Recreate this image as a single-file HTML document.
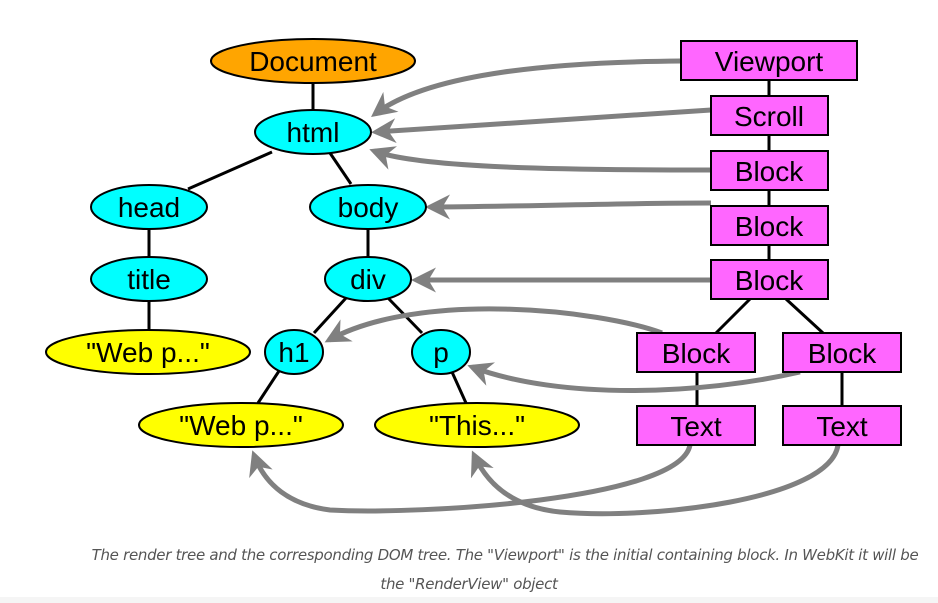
<!DOCTYPE html>
<html><head><style>
body{margin:0;width:938px;height:603px;background:#fff;overflow:hidden;font-family:"Liberation Sans",Arial,sans-serif}
.cap{position:absolute;left:0;width:938px;text-align:center;font-style:italic;font-size:15px;color:#555;font-family:"DejaVu Sans","Liberation Sans",sans-serif;letter-spacing:-0.3px}
</style></head><body>
<svg width="938" height="603" style="position:absolute;left:0;top:0">
<defs>
<marker id="a" viewBox="0 0 10 10" refX="8" refY="5" markerWidth="5" markerHeight="5" orient="auto" markerUnits="strokeWidth">
<path d="M0,0 L10,5 L0,10 L3,5 Z" fill="#808080"/>
</marker>
</defs>
<g stroke="#000" stroke-width="3">
<line x1="313" y1="83" x2="313" y2="110"/>
<line x1="272" y1="152" x2="188" y2="189"/>
<line x1="330" y1="153" x2="351" y2="184"/>
<line x1="149" y1="229" x2="149" y2="257"/>
<line x1="368" y1="229" x2="368" y2="257"/>
<line x1="149" y1="301" x2="149" y2="330"/>
<line x1="346" y1="298" x2="314" y2="333"/>
<line x1="388" y1="298" x2="422" y2="333"/>
<line x1="279" y1="371" x2="258" y2="403"/>
<line x1="452" y1="372" x2="466" y2="403"/>
<line x1="769" y1="80" x2="769" y2="96"/>
<line x1="769" y1="135" x2="769" y2="151"/>
<line x1="769" y1="190" x2="769" y2="206"/>
<line x1="769" y1="245" x2="769" y2="260"/>
<line x1="750" y1="299" x2="716" y2="333"/>
<line x1="786" y1="299" x2="823" y2="333"/>
<line x1="697" y1="372" x2="697" y2="406"/>
<line x1="842" y1="372" x2="842" y2="406"/>
</g>
<g fill="none" stroke="#808080" stroke-width="5" marker-end="url(#a)">
<path d="M681,61 C560,62 430,72 375,114"/>
<path d="M711,110 L376,132"/>
<path d="M711,170 C560,170 420,168 374,151"/>
<path d="M711,203 C620,203 500,207 430,207"/>
<path d="M711,280 L416,280"/>
<path d="M662,333 C600,310 420,290 329,340"/>
<path d="M800,372 C700,395 560,400 472,367"/>
<path d="M690,445 C680,500 420,515 330,510 C290,505 265,485 254,455"/>
<path d="M838,445 C830,500 650,520 560,512 C520,508 490,490 474,455"/>
</g>
<g stroke="#000" stroke-width="2">
<ellipse cx="313" cy="61" rx="102" ry="22" fill="#ffa500"/>
<ellipse cx="313" cy="132" rx="58" ry="22" fill="#00ffff"/>
<ellipse cx="149" cy="207" rx="58" ry="22" fill="#00ffff"/>
<ellipse cx="368" cy="207" rx="58" ry="22" fill="#00ffff"/>
<ellipse cx="149" cy="279" rx="58" ry="22" fill="#00ffff"/>
<ellipse cx="368" cy="279" rx="43" ry="22" fill="#00ffff"/>
<ellipse cx="148" cy="352" rx="102" ry="22" fill="#ffff00"/>
<ellipse cx="294" cy="352" rx="29" ry="22" fill="#00ffff"/>
<ellipse cx="441" cy="352" rx="29" ry="22" fill="#00ffff"/>
<ellipse cx="241" cy="425" rx="102" ry="22" fill="#ffff00"/>
<ellipse cx="477" cy="425" rx="102" ry="22" fill="#ffff00"/>
<g fill="#ff66ff">
<rect x="681" y="41" width="176" height="39"/>
<rect x="711" y="96" width="117" height="39"/>
<rect x="711" y="151" width="117" height="39"/>
<rect x="711" y="206" width="117" height="39"/>
<rect x="711" y="260" width="117" height="39"/>
<rect x="637" y="333" width="118" height="39"/>
<rect x="783" y="333" width="118" height="39"/>
<rect x="637" y="406" width="118" height="39"/>
<rect x="783" y="406" width="118" height="39"/>
</g>
</g>
<g font-family="Liberation Sans, Arial, sans-serif" font-size="28" text-anchor="middle" fill="#000">
<text x="313" y="71">Document</text>
<text x="313" y="142">html</text>
<text x="149" y="217">head</text>
<text x="368" y="217">body</text>
<text x="149" y="289">title</text>
<text x="368" y="289">div</text>
<text x="148" y="362">"Web p..."</text>
<text x="294" y="362">h1</text>
<text x="441" y="362">p</text>
<text x="241" y="435">"Web p..."</text>
<text x="477" y="435">"This..."</text>
<text x="769" y="71">Viewport</text>
<text x="769" y="126">Scroll</text>
<text x="769" y="181">Block</text>
<text x="769" y="236">Block</text>
<text x="769" y="290">Block</text>
<text x="696" y="363">Block</text>
<text x="842" y="363">Block</text>
<text x="696" y="436">Text</text>
<text x="842" y="436">Text</text>
</g>
<rect x="0" y="597" width="938" height="6" fill="#f5f5f5"/>
</svg>
<div class="cap" style="top:546px;left:36px">The render tree and the corresponding DOM tree. The "Viewport" is the initial containing block. In WebKit it will be</div>
<div class="cap" style="top:575px">the "RenderView" object</div>
</body></html>
